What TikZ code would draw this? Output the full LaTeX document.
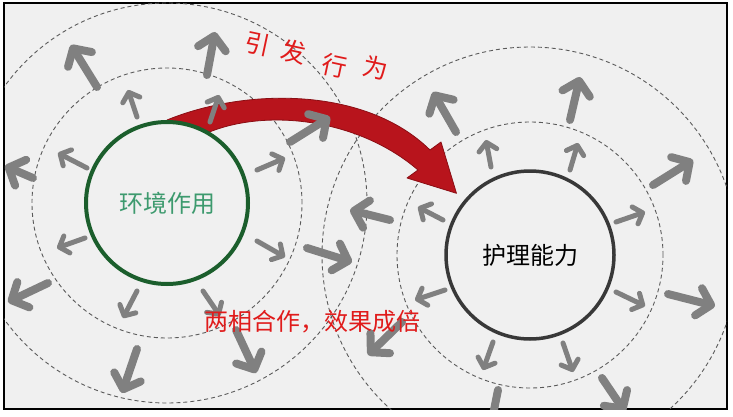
\documentclass[tikz,border=0pt]{standalone}
\usepackage{fontspec}
\newfontfamily\cjk{Noto Sans CJK SC}
\usepackage{tikz}
\usetikzlibrary{arrows.meta,calc,backgrounds}
\definecolor{paper}{HTML}{F0F0F0}
\definecolor{ringgray}{HTML}{5A5A5A}
\definecolor{arrowgray}{HTML}{808080}
\definecolor{envgreen}{HTML}{1B5E2C}
\definecolor{envtext}{HTML}{3D9A6E}
\definecolor{careblack}{HTML}{383838}
\definecolor{flowred}{HTML}{B8141C}
\definecolor{flowedge}{HTML}{8A0E14}
\definecolor{labelred}{HTML}{E01B1B}

\begin{document}
\begin{tikzpicture}[
  x=1pt, y=1pt,
  font=\cjk,
  corecircle/.style={
    circle,
    line width=4pt,
    minimum size=162pt,
    inner sep=0pt,
    font=\cjk\fontsize{24}{24}\selectfont
  },
  dashring/.style={
    draw=ringgray,
    line width=0.9pt,
    dash pattern=on 4pt off 3pt
  },
  smallarrow/.style={
    draw=arrowgray,
    line width=5pt,
    line cap=round,
    -{Straight Barb[round, length=8pt, width=18pt]}
  },
  bigarrow/.style={
    draw=arrowgray,
    line width=8pt,
    line cap=round,
    -{Straight Barb[round, length=13pt, width=28pt]}
  },
  chartext/.style={
    text=labelred,
    font=\cjk\fontsize{25}{25}\selectfont,
    rotate=-12,
    inner sep=0pt
  }
]

  \useasboundingbox (0,0) rectangle (733,416);

  % -------------------------------------------------------------
  % THE TWO CORE CIRCLES
  % -------------------------------------------------------------
  \node[corecircle, draw=envgreen, text=envtext] (env) at (167,213) {环境作用};
  \node[corecircle, draw=careblack, line width=3.5pt, minimum size=168pt] (care) at (530,161) {护理能力};

  % -------------------------------------------------------------
  % PAPER, DASHED RINGS AND THE RED FLOW (BEHIND)
  % -------------------------------------------------------------
  \begin{scope}[on background layer]
    \fill[white] (0,0) rectangle (733,416);
    \draw[fill=paper, line width=1.5pt] (4,7) rectangle (727,413);
    \begin{scope}
      \clip (4,7) rectangle (727,413);
      \draw[dashring] (env.center) circle[radius=135];
      \draw[dashring] (env.center) circle[radius=200];
      \draw[dashring] (care.center) circle[radius=133];
      \draw[dashring] (care.center) circle[radius=208];
    \end{scope}

    % red flow from env to care
    \draw[fill=flowred, draw=flowedge, line width=0.8pt, line join=round]
      (env.north) .. controls (245,328) and (365,330) .. (430,266)
      -- (441,274) -- ($(care.center)+(140:96)$) -- (407,238) -- (418,246)
      .. controls (360,296) and (270,308) .. (env.59) -- cycle;
  \end{scope}

  % -------------------------------------------------------------
  % GRAY ARROWS
  % -------------------------------------------------------------
  \begin{scope}
    \clip (4,7) rectangle (727,413);

    % left, inner ring
    \draw[smallarrow] (137,299) -- (128,326);
    \draw[smallarrow] (210,294) -- (219,321);
    \draw[smallarrow] (87,248) -- (58,263);
    \draw[smallarrow] (257,246) -- (285,258);
    \draw[smallarrow] (85,178) -- (57,168);
    \draw[smallarrow] (257,175) -- (285,159);
    \draw[smallarrow] (137,125) -- (123,98);
    \draw[smallarrow] (203,125) -- (220,100);

    % left, outer ring
    \draw[bigarrow] (97,329) -- (71,371);
    \draw[bigarrow] (207,341) -- (215,384);
    \draw[bigarrow] (290,274) -- (330,299);
    \draw[bigarrow] (33,238) -- (5,250);
    \draw[bigarrow] (48,133) -- (8,114);
    \draw[bigarrow] (307,168) -- (352,154);
    \draw[bigarrow] (137,67) -- (122,23);
    \draw[bigarrow] (236,86) -- (256,43);

    % right, inner ring
    \draw[smallarrow] (491,249) -- (486,276);
    \draw[smallarrow] (570,246) -- (578,273);
    \draw[smallarrow] (443,196) -- (418,209);
    \draw[smallarrow] (616,194) -- (645,204);
    \draw[smallarrow] (445,126) -- (415,116);
    \draw[smallarrow] (616,124) -- (645,110);
    \draw[smallarrow] (493,74) -- (483,46);
    \draw[smallarrow] (563,73) -- (573,44);

    % right, outer ring
    \draw[bigarrow] (456,284) -- (433,324);
    \draw[bigarrow] (570,296) -- (580,339);
    \draw[bigarrow] (653,231) -- (693,256);
    \draw[bigarrow] (668,122) -- (715,110);
    \draw[bigarrow] (390,196) -- (350,206);
    \draw[bigarrow] (402,94) -- (368,61);
    \draw[bigarrow] (498,26) -- (488,-24);
    \draw[bigarrow] (602,38) -- (625,4);
  \end{scope}

  % -------------------------------------------------------------
  % RED LABELS
  % -------------------------------------------------------------
  \node[chartext] (ch1) at (258,372) {引};
  \node[chartext] (ch2) at (294,364) {发};
  \node[chartext] (ch3) at (335,350) {行};
  \node[chartext] (ch4) at (376,348) {为};

  \node[text=labelred, font=\cjk\fontsize{24}{24}\selectfont, inner sep=0pt] (gain) at (312,94) {两相合作，效果成倍};

\end{tikzpicture}
\end{document}
